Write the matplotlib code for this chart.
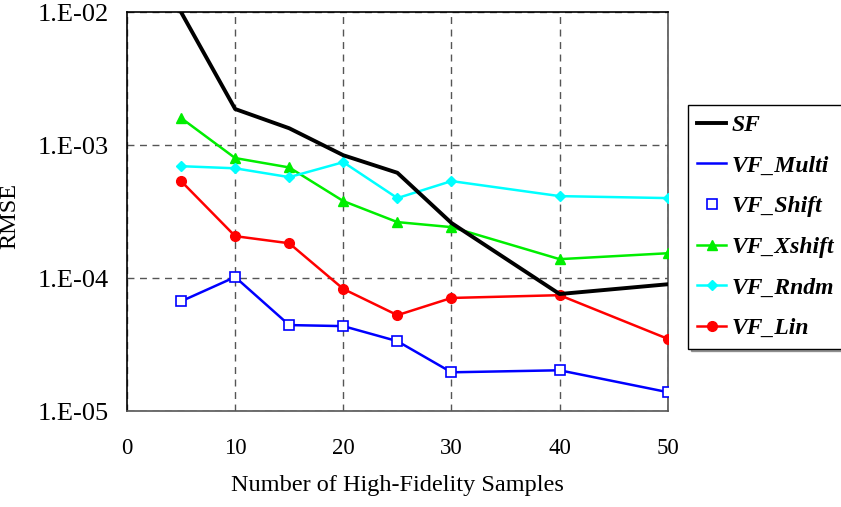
import matplotlib
matplotlib.use("Agg")
import matplotlib.pyplot as plt
from matplotlib.ticker import FixedLocator

plt.rcParams['font.family'] = ['Liberation Serif', 'DejaVu Serif']

samples = [5, 10, 15, 20, 25, 30, 40, 50]
sf = [1.0e-2, 1.87e-3, 1.34e-3, 8.4e-4, 6.2e-4, 2.6e-4, 7.6e-5, 9.0e-5]
vf_multi = [6.7e-5, 1.02e-4, 4.44e-5, 4.36e-5, 3.36e-5, 1.96e-5, 2.03e-5, 1.39e-5]
vf_shift = [6.7e-5, 1.02e-4, 4.44e-5, 4.36e-5, 3.36e-5, 1.96e-5, 2.03e-5, 1.39e-5]
vf_xshift = [1.6e-3, 8.0e-4, 6.8e-4, 3.8e-4, 2.64e-4, 2.42e-4, 1.39e-4, 1.54e-4]
vf_rndm = [6.95e-4, 6.7e-4, 5.75e-4, 7.45e-4, 4.0e-4, 5.37e-4, 4.14e-4, 4.0e-4]
vf_lin = [5.37e-4, 2.07e-4, 1.83e-4, 8.3e-5, 5.27e-5, 7.1e-5, 7.45e-5, 3.5e-5]

x_ticks = [0, 10, 20, 30, 40, 50]
y_ticks = [1e-5, 1e-4, 1e-3, 1e-2]
y_ticklabels = ['1.E-05', '1.E-04', '1.E-03', '1.E-02']

fig = plt.figure(figsize=(8.41, 5.07), dpi=100)
ax = fig.add_axes([0.151, 0.189, 0.643, 0.787])

ax.plot(samples, sf, color='black', lw=2.8, label='SF', zorder=5)
ax.plot(samples, vf_multi, color='blue', lw=1.8, label='VF_Multi', zorder=3)
ax.plot(samples, vf_shift, color='blue', lw=0, marker='s', ms=6.5,
        mfc='white', mec='blue', mew=1.2, label='VF_Shift', zorder=4)
ax.plot(samples, vf_xshift, color='#00ee00', lw=1.8, marker='^', ms=7.5, label='VF_Xshift', zorder=4)
ax.plot(samples, vf_rndm, color='cyan', lw=1.8, marker='D', ms=5.5, label='VF_Rndm', zorder=4)
ax.plot(samples, vf_lin, color='red', lw=1.8, marker='o', ms=7, label='VF_Lin', zorder=4)

ax.set_yscale('log')
ax.set_xlim(0, 50)
ax.set_ylim(1e-5, 1e-2)
ax.xaxis.set_major_locator(FixedLocator(x_ticks))
ax.yaxis.set_major_locator(FixedLocator(y_ticks))
ax.yaxis.set_minor_locator(FixedLocator([]))
ax.set_yticklabels(y_ticklabels)
ax.tick_params(axis='both', length=0)
ax.tick_params(axis='y', labelsize=19, pad=13)
ax.tick_params(axis='x', labelsize=16.5, pad=19)

ax.grid(True, which='major', color='#555555', ls=(0, (5, 4)), lw=1.0)
for s in ['left', 'top']:
    ax.spines[s].set_color('black')
    ax.spines[s].set_linewidth(1.2)
for s in ['right', 'bottom']:
    ax.spines[s].set_color('#555555')
    ax.spines[s].set_linewidth(1.2)

ax.set_xlabel('Number of High-Fidelity Samples', fontsize=17.5, labelpad=12)
ax.set_ylabel('RMSE', fontsize=17.5)
ax.yaxis.set_label_coords(-0.198, 0.49)

leg = fig.legend(loc='upper left', bbox_to_anchor=(0.818, 0.793), frameon=True,
                 fancybox=False, shadow=True, prop={'weight': 'bold', 'style': 'italic', 'size': 17},
                 handlelength=1.2, labelspacing=0.81, borderpad=0.4, handletextpad=0.25,
                 borderaxespad=0)
leg.get_frame().set_edgecolor('black')
leg.get_frame().set_linewidth(1.0)

fig.savefig('out.png', dpi=100)
